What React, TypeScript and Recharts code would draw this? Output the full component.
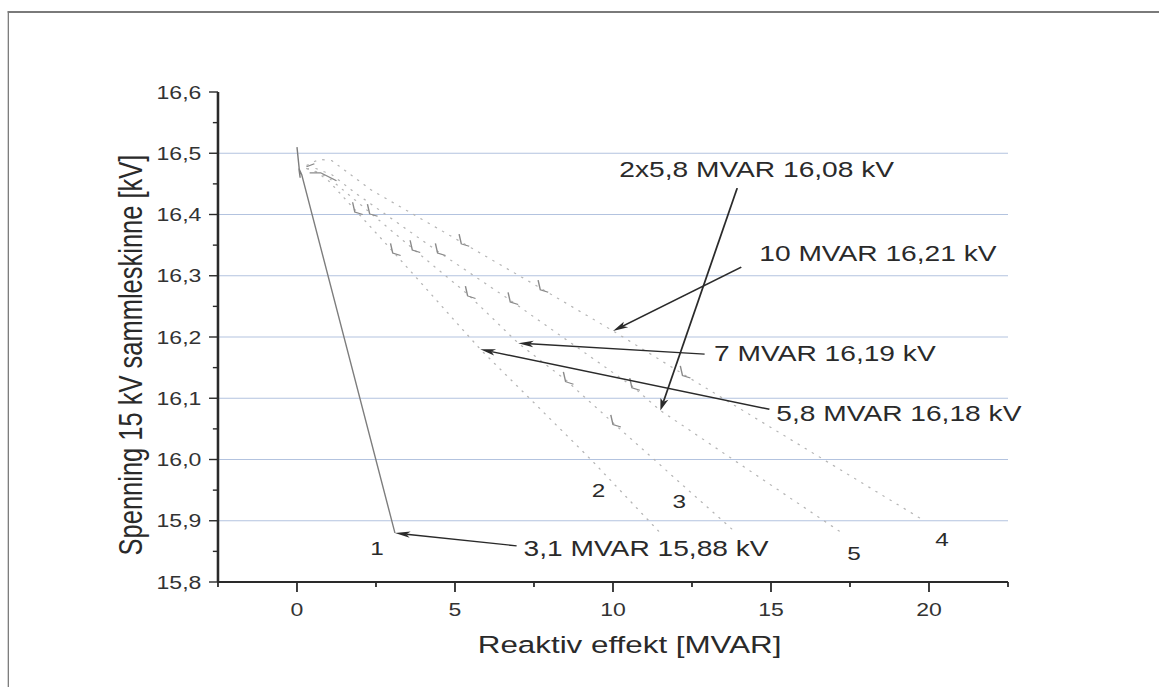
import {
  LineChart,
  Line,
  XAxis,
  YAxis,
  ReferenceLine,
  ReferenceDot,
  Label,
} from "recharts";

// reactive power [MVAR] vs. 15 kV busbar voltage [kV]
const curve1 = [
  { x: 0, y: 16.51 },
  { x: 0.1, y: 16.46 },
  { x: 0.06, y: 16.475 },
  { x: 0.15, y: 16.465 },
  { x: 3.1, y: 15.88 },
];

const curve2 = [
  { x: 0.3, y: 16.475 },
  { x: 0.6, y: 16.47 },
  { x: 1.0, y: 16.455 },
  { x: 3.03, y: 16.34 },
  { x: 5.8, y: 16.18 },
  { x: 9.3, y: 16.0 },
  { x: 11.5, y: 15.88 },
];

const curve3 = [
  { x: 0.3, y: 16.475 },
  { x: 0.6, y: 16.47 },
  { x: 1.0, y: 16.46 },
  { x: 3.65, y: 16.345 },
  { x: 5.4, y: 16.27 },
  { x: 7.0, y: 16.19 },
  { x: 8.5, y: 16.13 },
  { x: 10.0, y: 16.06 },
  { x: 13.9, y: 15.88 },
];

const curve5 = [
  { x: 0.3, y: 16.475 },
  { x: 0.6, y: 16.475 },
  { x: 1.1, y: 16.465 },
  { x: 1.85, y: 16.435 },
  { x: 4.45, y: 16.34 },
  { x: 6.75, y: 16.26 },
  { x: 10.6, y: 16.12 },
  { x: 11.5, y: 16.08 },
  { x: 17.25, y: 15.88 },
];

const curve4 = [
  { x: 0.3, y: 16.48 },
  { x: 0.7, y: 16.49 },
  { x: 1.1, y: 16.488 },
  { x: 2.35, y: 16.44 },
  { x: 5.2, y: 16.355 },
  { x: 7.7, y: 16.28 },
  { x: 10.0, y: 16.21 },
  { x: 12.2, y: 16.14 },
  { x: 19.85, y: 15.9 },
];

// tap-step kinks and the dark start of the curves
const stepMarks = [
  { x: 0.3, y: 16.478 }, { x: 0.55, y: 16.483 }, { x: 0.55, y: null },
  { x: 0.4, y: 16.468 }, { x: 0.75, y: 16.468 }, { x: 1.25, y: 16.455 }, { x: 1.25, y: null },
  { x: 1.76, y: 16.42 }, { x: 1.83, y: 16.404 }, { x: 2.08, y: 16.4 }, { x: 2.08, y: null },
  { x: 2.23, y: 16.417 }, { x: 2.3, y: 16.401 }, { x: 2.55, y: 16.397 }, { x: 2.55, y: null },
  { x: 2.96, y: 16.353 }, { x: 3.03, y: 16.337 }, { x: 3.28, y: 16.333 }, { x: 3.28, y: null },
  { x: 3.58, y: 16.358 }, { x: 3.65, y: 16.342 }, { x: 3.9, y: 16.338 }, { x: 3.9, y: null },
  { x: 4.38, y: 16.353 }, { x: 4.45, y: 16.337 }, { x: 4.7, y: 16.333 }, { x: 4.7, y: null },
  { x: 5.13, y: 16.368 }, { x: 5.2, y: 16.352 }, { x: 5.45, y: 16.348 }, { x: 5.45, y: null },
  { x: 5.33, y: 16.283 }, { x: 5.4, y: 16.267 }, { x: 5.65, y: 16.263 }, { x: 5.65, y: null },
  { x: 6.68, y: 16.273 }, { x: 6.75, y: 16.257 }, { x: 7.0, y: 16.253 }, { x: 7.0, y: null },
  { x: 7.63, y: 16.293 }, { x: 7.7, y: 16.277 }, { x: 7.95, y: 16.273 }, { x: 7.95, y: null },
  { x: 8.43, y: 16.143 }, { x: 8.5, y: 16.127 }, { x: 8.75, y: 16.123 }, { x: 8.75, y: null },
  { x: 9.93, y: 16.073 }, { x: 10.0, y: 16.057 }, { x: 10.25, y: 16.053 }, { x: 10.25, y: null },
  { x: 10.53, y: 16.133 }, { x: 10.6, y: 16.117 }, { x: 10.85, y: 16.113 }, { x: 10.85, y: null },
  { x: 12.13, y: 16.153 }, { x: 12.2, y: 16.137 }, { x: 12.45, y: 16.133 },
];

const xTicks = [-2.5, 0, 2.5, 5, 7.5, 10, 12.5, 15, 17.5, 20, 22.5];
const yTicks = [
  15.8, 15.85, 15.9, 15.95, 16.0, 16.05, 16.1, 16.15, 16.2, 16.25, 16.3, 16.35,
  16.4, 16.45, 16.5, 16.55, 16.6,
];
const gridLevels = [15.9, 16.0, 16.1, 16.2, 16.3, 16.4, 16.5];

// annotated operating points
const noteTexts = [
  "2x5,8 MVAR 16,08 kV",
  "10 MVAR 16,21 kV",
  "7 MVAR 16,19 kV",
  "5,8 MVAR 16,18 kV",
  "3,1 MVAR 15,88 kV",
];
const noteMvar = [11.5, 10, 7, 5.8, 3.1];
const noteKv = [16.08, 16.21, 16.19, 16.18, 15.88];

// where each arrow starts and where its text sits
const noteTails = [
  { x: 13.93, y: 16.443 },
  { x: 14.06, y: 16.314 },
  { x: 12.9, y: 16.172 },
  { x: 14.95, y: 16.082 },
  { x: 6.95, y: 15.859 },
];
const noteTextPos = [
  { x: 10.2, y: 16.474 },
  { x: 14.63, y: 16.337 },
  { x: 13.2, y: 16.174 },
  { x: 15.17, y: 16.076 },
  { x: 7.17, y: 15.855 },
];

const curveNames = ["1", "2", "3", "5", "4"];
const curveNamePos = [
  { x: 2.53, y: 15.854 },
  { x: 9.54, y: 15.95 },
  { x: 12.1, y: 15.931 },
  { x: 17.63, y: 15.847 },
  { x: 20.41, y: 15.869 },
];

const FONT = "'Liberation Sans', Arial, sans-serif";
const INK = "#2a2a2a";
const fmt = (v: number) => v.toFixed(1).replace(".", ",");

function XTick(props: any) {
  const { x, y, payload } = props;
  const v = payload.value;
  const major = v % 5 === 0;
  return (
    <g>
      <line x1={x} x2={x} y1={y} y2={y + (major ? 10 : 5)} stroke={INK} strokeWidth={1.4} />
      {major && (
        <text x={x} y={y + 27} textAnchor="middle" dominantBaseline="central" fontSize={18} fill="#333" fontFamily={FONT}>
          {v}
        </text>
      )}
    </g>
  );
}

function YTick(props: any) {
  const { x, y, payload } = props;
  const v = payload.value;
  const major = Math.round(v * 100) % 10 === 0;
  return (
    <g>
      <line x1={x} x2={x - (major ? 7 : 4)} y1={y} y2={y} stroke={INK} strokeWidth={1.4} />
      {major && (
        <text x={x - 13} y={y} textAnchor="end" dominantBaseline="central" fontSize={18} fill="#333" fontFamily={FONT}>
          {fmt(v)}
        </text>
      )}
    </g>
  );
}

function Arrow(p: any) {
  const { x1, y1, x2, y2 } = p;
  const dx = x1 - x2;
  const dy = y1 - y2;
  const len = Math.hypot(dx, dy) || 1;
  const ux = dx / len;
  const uy = dy / len;
  const bx = x1 - ux * 12;
  const by = y1 - uy * 12;
  const w = 3.2;
  return (
    <g>
      <line x1={x2} y1={y2} x2={bx + ux * 3} y2={by + uy * 3} stroke={INK} strokeWidth={1.4} />
      <polygon
        points={`${x1},${y1} ${bx - uy * w},${by + ux * w} ${bx + ux * 3},${by + uy * 3} ${bx + uy * w},${by - ux * w}`}
        fill={INK}
      />
    </g>
  );
}

const textShape = (text: string, size: number, anchor: string) => (p: any) => (
  <text x={p.cx} y={p.cy} textAnchor={anchor} dominantBaseline="central" fontSize={size} fill={INK} fontFamily={FONT}>
    {text}
  </text>
);

export default function App() {
  return (
    <div style={{ position: "fixed", left: 0, top: 0, width: 1159, height: 687, overflow: "hidden", background: "#fff" }}>
      <div style={{ position: "absolute", left: 0, top: 0, width: 906, height: 687, transform: "scaleX(1.28)", transformOrigin: "0 0" }}>
        <div
          style={{
            position: "absolute",
            left: 6,
            top: 11,
            width: 1200,
            height: 900,
            borderLeft: "1.6px solid #7a7a7a",
            borderTop: "2px solid #7a7a7a",
          }}
        />
        <LineChart
          width={906}
          height={687}
          margin={{ top: 92, right: 118.5, bottom: 45, left: 100 }}
          style={{ fontFamily: FONT }}
        >
          <XAxis
            dataKey="x"
            type="number"
            domain={[-2.5, 22.5]}
            ticks={xTicks}
            interval={0}
            allowDataOverflow
            height={60}
            tickSize={0}
            tickMargin={0}
            tickLine={false}
            tick={<XTick />}
            axisLine={{ stroke: INK, strokeWidth: 1.8 }}
          >
            <Label
              content={({ viewBox }: any) => (
                <text
                  x={viewBox.x + viewBox.width / 2 + 13}
                  y={viewBox.y + 63}
                  textAnchor="middle"
                  dominantBaseline="central"
                  fontSize={24.5}
                  fill={INK}
                  fontFamily={FONT}
                >
                  Reaktiv effekt [MVAR]
                </text>
              )}
            />
          </XAxis>
          <YAxis
            type="number"
            domain={[15.8, 16.6]}
            ticks={yTicks}
            interval={0}
            allowDataOverflow
            width={70.3}
            tickSize={0}
            tickMargin={0}
            tickLine={false}
            tick={<YTick />}
            axisLine={{ stroke: INK, strokeWidth: 2 }}
          >
            <Label
              content={({ viewBox }: any) => {
                const cx = viewBox.x + 1.6;
                const cy = viewBox.y + viewBox.height / 2 + 18;
                return (
                  <text
                    x={cx}
                    y={cy}
                    transform={`rotate(-90 ${cx} ${cy})`}
                    textAnchor="middle"
                    dominantBaseline="central"
                    fontSize={25.5}
                    fill={INK}
                    fontFamily={FONT}
                  >
                    Spenning 15 kV sammleskinne [kV]
                  </text>
                );
              }}
            />
          </YAxis>

          {gridLevels.map((v) => (
            <ReferenceLine key={v} y={v} stroke="#b3c3df" strokeWidth={1} />
          ))}

          <Line data={curve4} dataKey="y" type="linear" stroke="#b5b5b5" strokeWidth={1.1} strokeDasharray="2 5" dot={false} isAnimationActive={false} />
          <Line data={curve5} dataKey="y" type="linear" stroke="#b5b5b5" strokeWidth={1.1} strokeDasharray="2 5" dot={false} isAnimationActive={false} />
          <Line data={curve3} dataKey="y" type="linear" stroke="#b5b5b5" strokeWidth={1.1} strokeDasharray="2 5" dot={false} isAnimationActive={false} />
          <Line data={curve2} dataKey="y" type="linear" stroke="#b5b5b5" strokeWidth={1.1} strokeDasharray="2 5" dot={false} isAnimationActive={false} />
          <Line data={curve1} dataKey="y" type="linear" stroke="#7d7d7d" strokeWidth={1.1} dot={false} isAnimationActive={false} />
          <Line data={stepMarks} dataKey="y" type="linear" stroke="#8a8a8a" strokeWidth={1.1} dot={false} connectNulls={false} isAnimationActive={false} />

          {noteTexts.map((t, i) => (
            <ReferenceLine
              key={"arrow" + t}
              segment={[{ x: noteMvar[i], y: noteKv[i] }, noteTails[i]]}
              shape={Arrow}
            />
          ))}
          {noteTexts.map((t, i) => (
            <ReferenceDot
              key={"note" + t}
              x={noteTextPos[i].x}
              y={noteTextPos[i].y}
              r={0}
              shape={textShape(t, 22, "start")}
            />
          ))}
          {curveNames.map((n, i) => (
            <ReferenceDot
              key={"curve" + n}
              x={curveNamePos[i].x}
              y={curveNamePos[i].y}
              r={0}
              shape={textShape(n, 19, "middle")}
            />
          ))}
        </LineChart>
      </div>
    </div>
  );
}
